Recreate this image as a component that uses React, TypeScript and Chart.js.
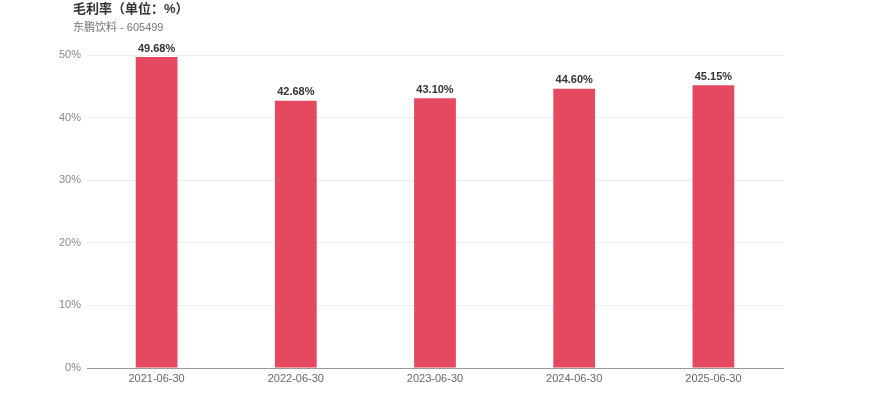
import React, { useEffect, useRef } from "react";
import { Chart, registerables } from "chart.js";

Chart.register(...registerables);

const categories = ["2021-06-30", "2022-06-30", "2023-06-30", "2024-06-30", "2025-06-30"];
const grossMargin = [49.68, 42.68, 43.1, 44.6, 45.15];
const yTicks = [0, 10, 20, 30, 40, 50];
const titleText = "毛利率（单位：%）";
const subtitleText = "东鹏饮料 - 605499";

const FONT = "'Liberation Sans', Arial, 'Noto Sans CJK SC', sans-serif";

const overlayPlugin = {
  id: "overlay",
  afterDatasetsDraw(chart: any) {
    const ctx = chart.ctx;
    ctx.save();
    ctx.textAlign = "left";
    ctx.textBaseline = "middle";
    ctx.fillStyle = "#333";
    ctx.font = `bold 13px ${FONT}`;
    ctx.fillText(titleText, 73, 9);
    ctx.fillStyle = "#777";
    ctx.font = `11px ${FONT}`;
    ctx.fillText(subtitleText, 73, 28);
    const meta = chart.getDatasetMeta(0);
    ctx.textAlign = "center";
    ctx.textBaseline = "bottom";
    ctx.fillStyle = "#333";
    ctx.font = `bold 11px ${FONT}`;
    meta.data.forEach((bar: any, i: number) => {
      ctx.fillText(grossMargin[i].toFixed(2) + "%", bar.x, bar.y - 3);
    });
    ctx.restore();
  },
};

export default function App() {
  const ref = useRef<HTMLCanvasElement>(null);
  useEffect(() => {
    if (!ref.current) return;
    const chart = new Chart(ref.current, {
      type: "bar",
      data: {
        labels: categories,
        datasets: [
          {
            data: grossMargin,
            backgroundColor: "#e5495f",
            barPercentage: 0.3,
            categoryPercentage: 1,
          },
        ],
      },
      options: {
        animation: false,
        responsive: false,
        devicePixelRatio: 1,
        layout: { padding: { left: 0, right: 87, top: 55, bottom: 0 } },
        plugins: {
          legend: { display: false },
          tooltip: { enabled: false },
        },
        scales: {
          x: {
            grid: { display: false, drawTicks: false },
            border: { display: true, color: "#999", width: 1 },
            ticks: { color: "#666", font: { family: FONT, size: 11 }, padding: 4, maxRotation: 0 },
            afterFit(scale: any) {
              scale.height = 49;
            },
          },
          y: {
            min: 0,
            max: 50,
            afterBuildTicks(scale: any) {
              scale.ticks = yTicks.map((v) => ({ value: v }));
            },
            grid: { color: "#eeeeee", drawTicks: false },
            border: { display: false },
            ticks: {
              color: "#888",
              font: { family: FONT, size: 11 },
              padding: 6,
              callback: (v: any) => v + "%",
            },
            afterFit(scale: any) {
              scale.width = 87;
            },
          },
        },
      },
      plugins: [overlayPlugin],
    });
    return () => chart.destroy();
  }, []);
  return (
    <div style={{ position: "absolute", left: 0, top: 0, width: 870, height: 417 }}>
      <canvas ref={ref} width={870} height={417} style={{ width: 870, height: 417 }} />
    </div>
  );
}
